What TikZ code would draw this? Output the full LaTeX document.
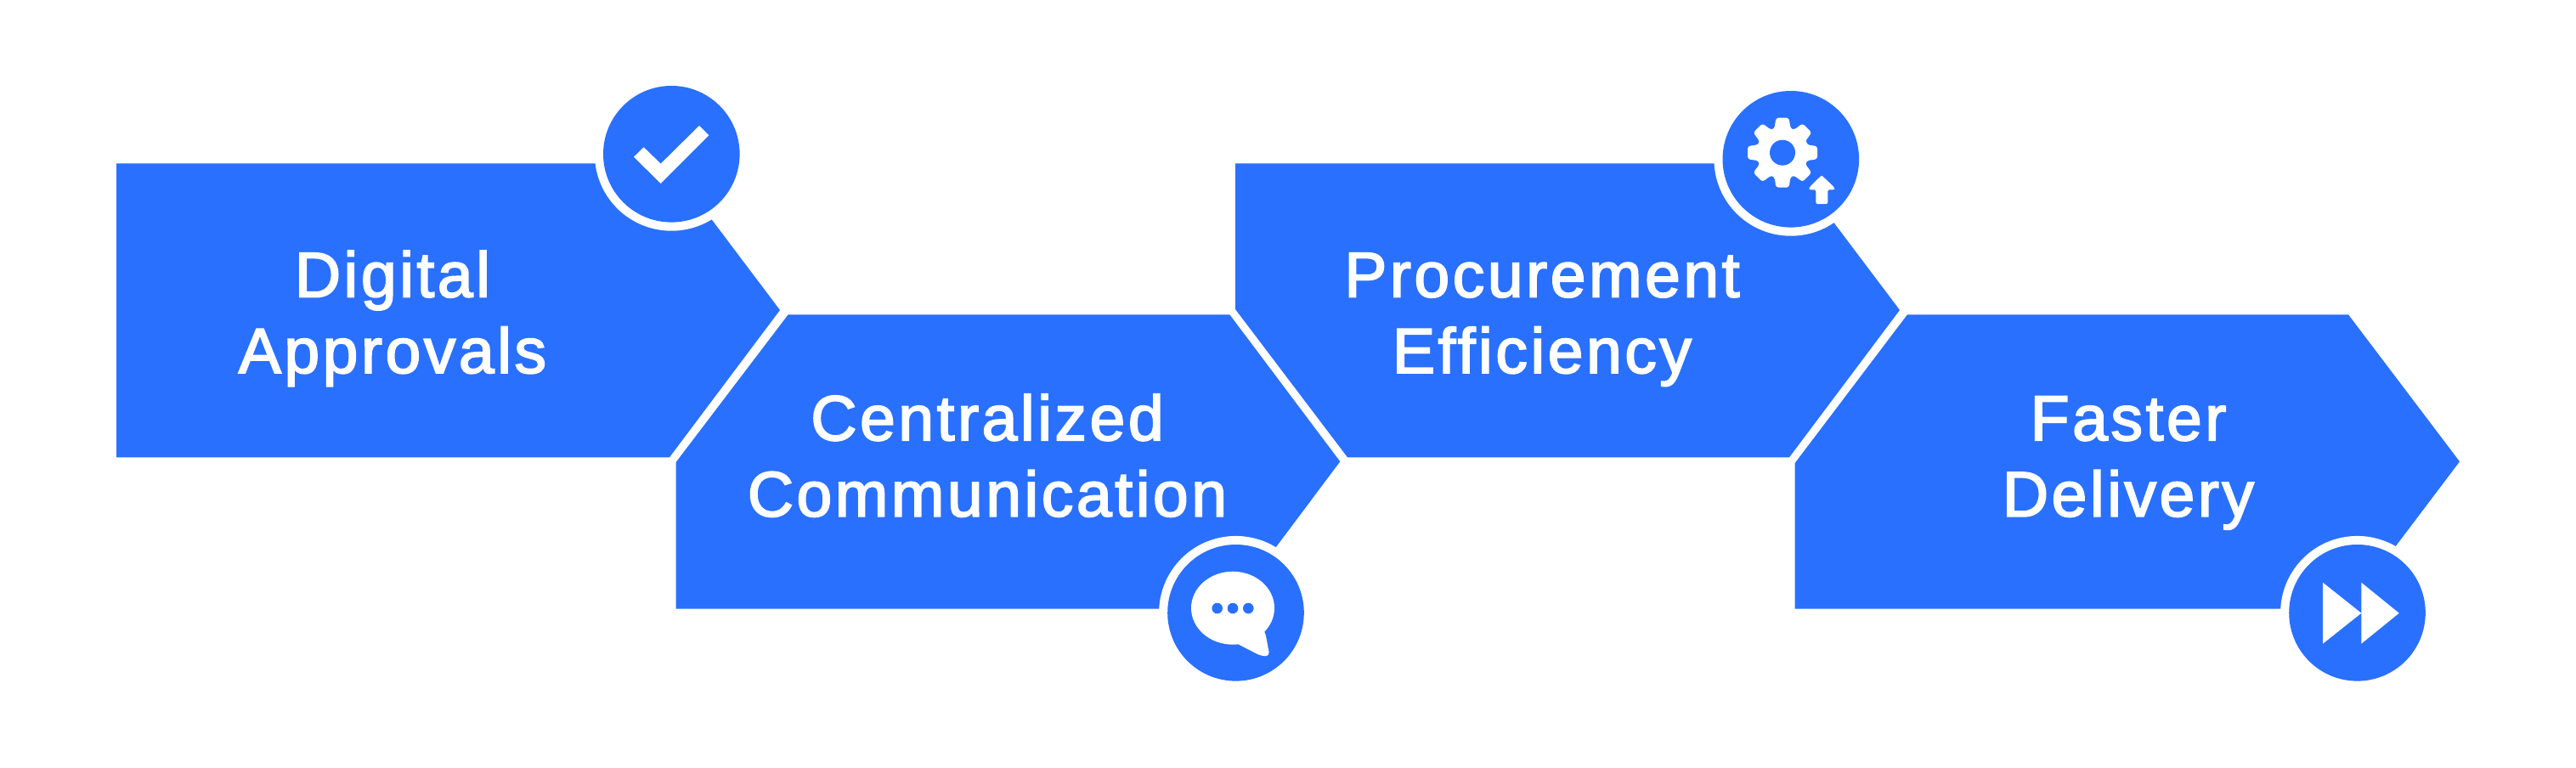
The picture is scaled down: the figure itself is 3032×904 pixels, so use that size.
\documentclass[tikz,border=0pt]{standalone}
\usepackage{fontspec}
\setmainfont[LetterSpace=4.8,FakeBold=2.5]{Liberation Sans}
\definecolor{brand}{HTML}{2970FF}
\tikzset{
  panel/.style={fill=brand,draw=none},
  halo/.style={circle,fill=white,draw=none,minimum size=180.8pt,inner sep=0pt,outer sep=0pt},
  badge/.style={circle,fill=brand,draw=none,minimum size=160.6pt,inner sep=0pt,outer sep=0pt},
  caption/.style={text=white,align=center,anchor=base,font=\fontsize{75}{89.5}\selectfont,inner sep=0pt},
  glyph/.style={fill=white,draw=none},
  holeglyph/.style={fill=brand,draw=none}
}
\begin{document}
\begin{tikzpicture}[x=1pt,y=-1pt]
\useasboundingbox (0,0) rectangle (3032,904);
% panels
\fill[panel] (137,192.5) -- (788,192.5) -- (918,365) -- (788,538.3) -- (137,538.3) -- cycle;
\fill[panel] (795.7,544) -- (927.7,370.3) -- (1447.3,370.3) -- (1577.3,543.3) -- (1447.3,716.7) -- (795.7,716.7) -- cycle;
\fill[panel] (1454,192.5) -- (2106,192.5) -- (2236,365) -- (2106,538.3) -- (1586,538.3) -- (1454,364) -- cycle;
\fill[panel] (2112.7,545) -- (2245,370.3) -- (2764,370.3) -- (2895,543.3) -- (2764,716.7) -- (2112.7,716.7) -- cycle;
% badges
\node[halo] (h1) at (790.3,181.3) {};
\node[badge] (b1) at (790.3,181.3) {};
\node[halo] (h2) at (1454.5,721.3) {};
\node[badge] (b2) at (1454.5,721.3) {};
\node[halo] (h3) at (2107.8,187.3) {};
\node[badge] (b3) at (2107.8,187.3) {};
\node[halo] (h4) at (2774.5,721.3) {};
\node[badge] (b4) at (2774.5,721.3) {};
% check
\fill[glyph] (746,184.7) -- (757.7,173.3) -- (777.7,192.7) -- (823,148) -- (834.3,159.3) -- (777.7,216) -- cycle;
% speech bubble
\fill[glyph] (1451,715.7) ellipse[x radius=49,y radius=43];
\fill[glyph,rounded corners=5pt] (1480,735) -- (1489,743.3) -- (1494.5,772.5) -- (1484,772) -- (1457.3,758.3) -- (1440,745) -- cycle;
\fill[holeglyph] (1432.7,716) circle[radius=6.3];
\fill[holeglyph] (1451,716) circle[radius=6.3];
\fill[holeglyph] (1469.3,716) circle[radius=6.3];
% gear
\begin{scope}[shift={(2098,179.7)}]
\fill[glyph,rounded corners=3pt] (-18.4:30)
  \foreach \a in {0,45,...,315}{
    -- (\a-18.4:30) -- (\a-10.5:41.7) -- (\a+10.5:41.7) -- (\a+18.4:30)
  } -- cycle;
\fill[holeglyph] (0,0) circle[radius=15];
\end{scope}
% arrow
\fill[glyph,rounded corners=2pt] (2144,206.3) -- (2159.3,220.7) -- (2159.3,223.3) -- (2151.3,223.3) -- (2151.3,240) -- (2137.3,240) -- (2137.3,223.3) -- (2129.3,223.3) -- (2129.3,220.7) -- cycle;
% fast forward
\fill[glyph] (2734,685.7) -- (2779.3,721.7) -- (2734,757.7) -- cycle;
\fill[glyph] (2779.3,685.7) -- (2823.7,721.7) -- (2779.3,757.7) -- cycle;
% captions
\node[caption] (t1) at (462,439) {Digital\\Approvals};
\node[caption] (t2) at (1162,607.7) {Centralized\\Communication};
\node[caption] (t3) at (1815,439) {Procurement\\Efficiency};
\node[caption] (t4) at (2505,607.7) {Faster\\Delivery};
\end{tikzpicture}
\end{document}
